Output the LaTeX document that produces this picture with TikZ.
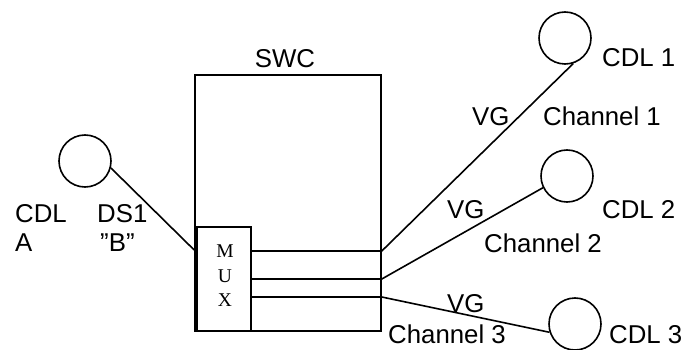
\documentclass[tikz,border=0pt]{standalone}
\usepackage{fontspec}
\setmainfont{Liberation Sans}
\newfontfamily\muxfont{Liberation Serif}
\usepackage{tikz}
\usetikzlibrary{positioning,calc}

\begin{document}
\begin{tikzpicture}[
  x=1pt, y=-1pt,
  box/.style={draw, line width=1.6pt, inner sep=0pt},
  cdl/.style={draw, circle, line width=1.6pt, minimum size=52pt, inner sep=0pt},
  lbl/.style={anchor=base west, inner sep=0pt, font=\fontsize{25.8}{30}\selectfont},
  link/.style={line width=1.6pt}
]
  \useasboundingbox (0,0) rectangle (685,350);

  % switch and multiplexer
  \node[box, minimum width=186pt, minimum height=256pt] (swc) at (288,203) {};
  \node[box, minimum width=54pt, minimum height=104pt] (mux) at (224,279) {};
  \node[inner sep=0pt, align=center, font=\muxfont\fontsize{19.5}{24.5}\selectfont] (muxtext) at (225,276) {M\\U\\X};
  \node[lbl, anchor=base] (swclbl) at (285,68) {SWC};

  % links
  \node[cdl] (cdlA) at (85,161) {};
  \node[cdl] (cdl1) at (565,38) {};
  \node[cdl] (cdl2) at (567,176) {};
  \node[cdl] (cdl3) at (575,324) {};

  \coordinate (s1) at (swc.east |- 0,251);
  \coordinate (s2) at (swc.east |- 0,279);
  \coordinate (s3) at (swc.east |- 0,297);

  \draw[link] (cdlA.345) -- (swc.west |- 0,250);
  \draw[link] (mux.east |- s1) -- (s1) -- (cdl1.288);
  \draw[link] (mux.east |- s2) -- (s2) -- (cdl2.206);
  \draw[link] (mux.east |- s3) -- (s3) -- (cdl3.198);

  % labels
  \node[lbl] (cdlAlbl) at (15,222) {CDL};
  \node[lbl] (cdlAlbl2) at (15,251) {A};
  \node[lbl] (ds1lbl) at (97,222) {DS1};
  \node[lbl] (ds1lbl2) at (100,251) {''B''};
  \node[lbl] (cdl1lbl) at (602,67) {CDL 1};
  \node[lbl] (vg1lbl) at (472,126) {VG};
  \node[lbl] (ch1lbl) at (543,126) {Channel 1};
  \node[lbl] (vg2lbl) at (447,218) {VG};
  \node[lbl] (cdl2lbl) at (602,218) {CDL 2};
  \node[lbl] (ch2lbl) at (484,252) {Channel 2};
  \node[lbl] (vg3lbl) at (447,312) {VG};
  \node[lbl] (ch3lbl) at (388,343) {Channel 3};
  \node[lbl] (cdl3lbl) at (609,343) {CDL 3};
\end{tikzpicture}
\end{document}
